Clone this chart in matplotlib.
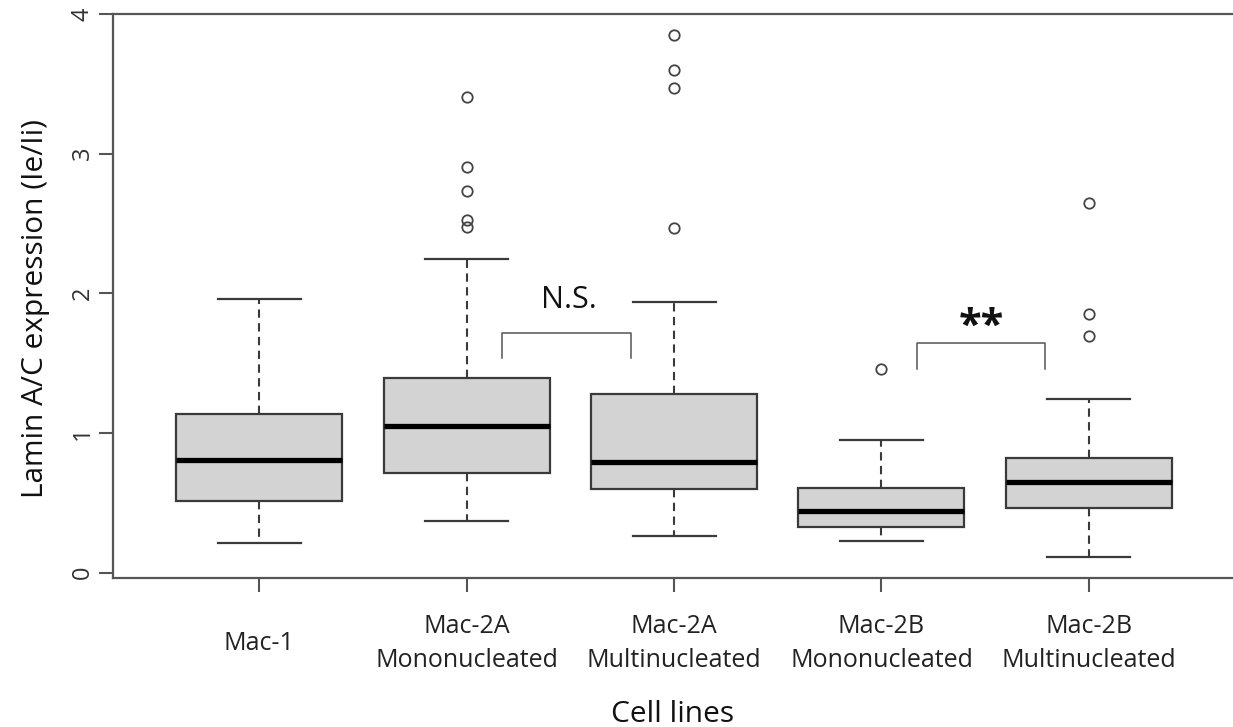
import matplotlib
matplotlib.use("Agg")
import matplotlib.pyplot as plt

# ---- data ----
categories = ["Mac-1", "Mac-2A\nMononucleated", "Mac-2A\nMultinucleated",
              "Mac-2B\nMononucleated", "Mac-2B\nMultinucleated"]
whislo = [0.215, 0.368, 0.264, 0.227, 0.110]
q1 = [0.511, 0.716, 0.599, 0.325, 0.465]
med = [0.807, 1.050, 0.794, 0.444, 0.649]
q3 = [1.134, 1.392, 1.277, 0.604, 0.819]
whishi = [1.957, 2.248, 1.935, 0.950, 1.246]
outliers = [[],
            [3.407, 2.906, 2.734, 2.525, 2.477],
            [3.848, 3.599, 3.471, 2.465],
            [1.460],
            [2.649, 1.850, 1.697]]
yticks = [0, 1, 2, 3, 4]
sig_pairs = [(2, 3), (4, 5)]
sig_labels = ["N.S.", "**"]

plt.rcParams['font.family'] = ['Open Sans', 'DejaVu Sans']

fig = plt.figure(figsize=(12.33, 7.27), dpi=100)
W, H = 1233, 727
left_px, right_px, top_px, bot_px = 112.7, 1240, 14, 578.3
ax = fig.add_axes([left_px / W, (H - bot_px) / H, (right_px - left_px) / W, (bot_px - top_px) / H])

positions = list(range(1, len(categories) + 1))
stats = []
for i in range(len(categories)):
    stats.append(dict(med=med[i], q1=q1[i], q3=q3[i], whislo=whislo[i],
                      whishi=whishi[i], fliers=outliers[i], label=categories[i]))

edge = '#3a3a3a'
ax.bxp(stats, positions=positions, widths=0.8, patch_artist=True,
       boxprops=dict(facecolor='#d3d3d3', edgecolor=edge, linewidth=1.6),
       medianprops=dict(color='black', linewidth=3.8, solid_capstyle='butt'),
       whiskerprops=dict(color=edge, linestyle=(0, (4, 2.6)), linewidth=1.5),
       capprops=dict(color=edge, linewidth=1.6),
       flierprops=dict(marker='o', markerfacecolor='none', markeredgecolor='#444444',
                       markersize=7.5, markeredgewidth=1.3))

ax.set_xlim(0.293, 5.729)
ax.set_ylim(-0.04, 4.0)

for s in ax.spines.values():
    s.set_color('#555555')
    s.set_linewidth(1.6)

ax.set_yticks(yticks)
ax.set_yticklabels([str(v) for v in yticks], rotation=90, va='center', fontsize=17, color='#333333')
ax.tick_params(axis='y', length=10, width=1.5, color='#555555', pad=3)
ax.set_xticks(positions)
ax.set_xticklabels(categories, fontsize=18, color='#222222', va='center', linespacing=1.45)
ax.tick_params(axis='x', length=10, width=1.5, color='#555555', pad=37)

ax.set_ylabel("Lamin A/C expression (Ie/Ii)", fontsize=21.5, color='#111111', va='center')
ax.yaxis.set_label_coords((36 - left_px) / (right_px - left_px), (bot_px - 308) / (bot_px - top_px))
ax.set_xlabel("Cell lines", fontsize=21.5, color='#111111', va='center')
ax.xaxis.set_label_coords((673 - left_px) / (right_px - left_px), (bot_px - 714) / (bot_px - top_px))

# significance brackets
bracket_tops = [1.716, 1.647]
bracket_bots = [1.537, 1.458]
for (a, b), lab, yt, yb in zip(sig_pairs, sig_labels, bracket_tops, bracket_bots):
    x0, x1 = a + 0.17, b - 0.21
    ax.plot([x0, x0, x1, x1], [yb, yt, yt, yb], color='#555555', linewidth=1.1)
    if lab == "N.S.":
        ax.text((x0 + x1) / 2 + 0.015, yt + 0.18, lab, ha='center', va='baseline', fontsize=22, color='#111111')
    else:
        ax.text((x0 + x1) / 2, yt + 0.11, lab, ha='center', va='center', fontsize=30,
                fontweight='bold', color='#111111')

fig.savefig("out.png", dpi=100)
